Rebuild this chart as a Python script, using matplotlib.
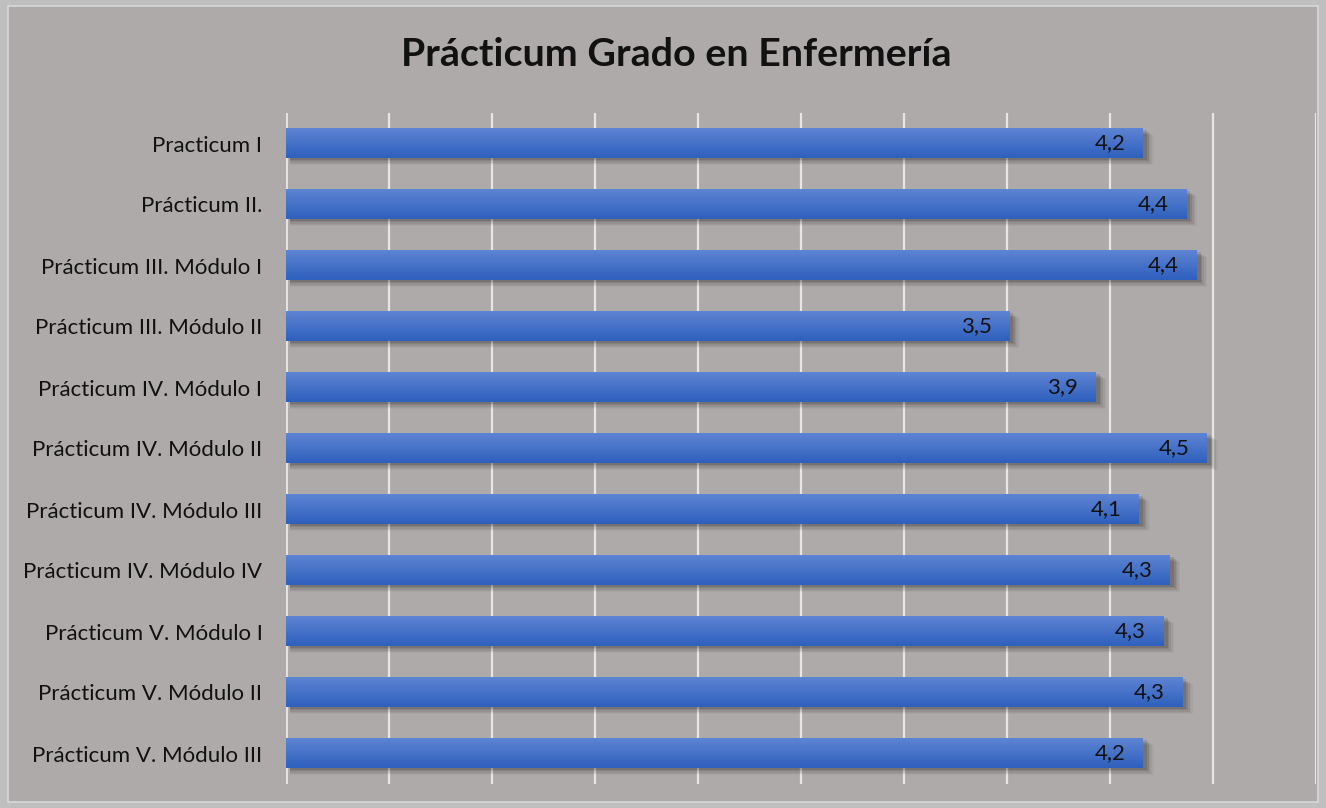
import matplotlib
matplotlib.use("Agg")
import matplotlib.pyplot as plt
import numpy as np
from matplotlib.patches import Rectangle

categories = ["Practicum I", "Prácticum II.", "Prácticum III. Módulo I",
              "Prácticum III. Módulo II", "Prácticum IV. Módulo I",
              "Prácticum IV. Módulo II", "Prácticum IV. Módulo III",
              "Prácticum IV. Módulo IV", "Prácticum V. Módulo I",
              "Prácticum V. Módulo II", "Prácticum V. Módulo III"]
values = [4.16, 4.37, 4.42, 3.51, 3.93, 4.47, 4.14, 4.29, 4.26, 4.35, 4.16]
title = "Prácticum Grado en Enfermería"
x_max = 5.0
x_step = 0.5

plt.rcParams['font.family'] = ['Lato', 'DejaVu Sans']

W, H = 1326, 808
fig = plt.figure(figsize=(W/100, H/100), dpi=100)
fig.patch.set_facecolor('#C0BFBF')
bg = Rectangle((8/W, 6/H), (W-16)/W, (H-12)/H, transform=fig.transFigure,
               facecolor='#AEAAA9', edgecolor='#D8D8D8', linewidth=1.2, zorder=-5)
fig.patches.append(bg)

ax = fig.add_axes([286/W, 1-784/H, (1316-286)/W, (784-113)/H])
ax.set_zorder(2)
ax.set_facecolor('none')
n = len(categories)
ypos = np.arange(n)
ax.set_xticks(np.arange(0, x_max+1e-9, x_step))
ax.set_xticklabels([])
ax.tick_params(axis='x', length=0)
ax.tick_params(axis='y', length=0, pad=17)
ax.set_yticks(ypos)
ax.set_yticklabels(categories, fontsize=16, color='#111111')
ax.grid(axis='x', color='#E6E6E6', linewidth=1.6, zorder=0)
ax.set_axisbelow(True)
for s in ax.spines.values():
    s.set_visible(False)
ax.axvline(0, color='#E6E6E6', linewidth=2, zorder=1)

h = 0.49
grad = np.linspace(0, 1, 64).reshape(-1, 1)
top = np.array([0x5E, 0x84, 0xD3]) / 255
bot = np.array([0x2E, 0x60, 0xBD]) / 255
cols = (top[None, :] * (1 - grad) + bot[None, :] * grad).reshape(64, 1, 3)

for y, v in zip(ypos, values):
    for k, a in enumerate([0.12, 0.09, 0.07, 0.05, 0.03]):
        off = 0.03 + 0.02 * k
        ax.add_patch(Rectangle((0.02, y - h/2 + off), v + 0.008*k, h,
                               facecolor='black', alpha=a, edgecolor='none', zorder=2))
    ax.imshow(cols, extent=(0, v, y + h/2, y - h/2), aspect='auto',
              interpolation='bilinear', zorder=3)
    ax.text(v - 0.085, y, f"{v:.1f}".replace('.', ','), ha='right', va='center',
            fontsize=16, color='#111111', zorder=4)

ax.set_xlim(0, x_max)
ax.set_ylim(n-0.5, -0.5)

fig.text(676/W, 1-55/H, title, ha='center', va='center', fontsize=28.4,
         fontweight='bold', color='#111111')

fig.savefig('out.png', dpi=100, facecolor=fig.get_facecolor())
